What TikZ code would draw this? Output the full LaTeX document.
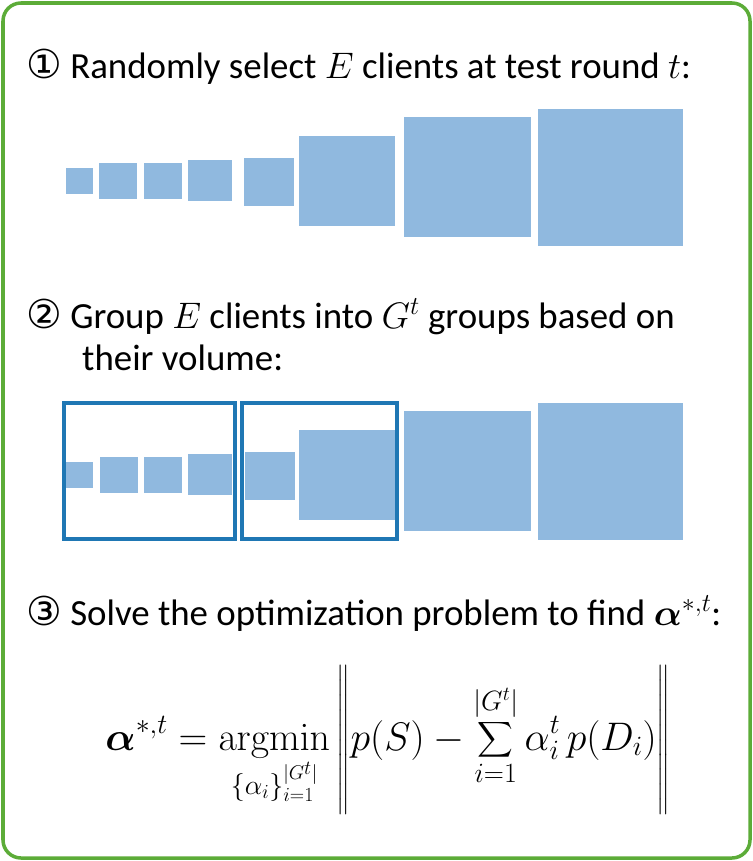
\RequirePackage{fix-cm}
\documentclass[tikz,border=0pt]{standalone}
\usepackage{amsmath,bm}
\usepackage[no-math]{fontspec}
\setmainfont{Carlito}
\newfontfamily\symfont{DejaVu Sans}
\definecolor{framegreen}{RGB}{92,172,56}
\definecolor{clientblue}{RGB}{144,185,223}
\definecolor{groupblue}{RGB}{31,119,180}
\newcommand{\cnum}[1]{{\symfont\fontsize{40}{42}\selectfont #1}}
\tikzset{
  client/.style={fill=clientblue},
  groupbox/.style={draw=groupblue,line width=4bp},
  steptext/.style={anchor=base west,inner sep=0pt,font=\fontsize{37}{44}\selectfont},
}
\begin{document}
\begin{tikzpicture}[x=1bp,y=-1bp]
\useasboundingbox (0,0) rectangle (753,861);
\draw[draw=framegreen,line width=3.5bp,rounded corners=18bp] (3,3) rectangle (750,858);

% step 1
\node[steptext] (s1) at (26,78) {\cnum{①} Randomly select $E$ clients at test round $t$:};
\fill[client] (66,168) rectangle (93,194);
\fill[client] (99,163) rectangle (137,199);
\fill[client] (144,163) rectangle (182,199);
\fill[client] (188,160) rectangle (232,201);
\fill[client] (244,158) rectangle (294,206);
\fill[client] (299,136) rectangle (395,226);
\fill[client] (404,117) rectangle (531,237);
\fill[client] (538,109) rectangle (683,246);

% step 2
\node[steptext] (s2a) at (26,328) {\cnum{②} Group $E$ clients into $G^t$ groups based on};
\node[steptext] (s2b) at (82,370) {their volume:};
\draw[groupbox] (64,403) rectangle (235,539);
\draw[groupbox] (242.4,403) rectangle (397.4,539);
\fill[client] (66,462) rectangle (93,488);
\fill[client] (100,457) rectangle (138,493);
\fill[client] (144,457) rectangle (182,493);
\fill[client] (188,454) rectangle (232,495);
\fill[client] (245,452) rectangle (295,500);
\fill[client] (299,430) rectangle (395,520);
\fill[client] (404,411) rectangle (531,531);
\fill[client] (538,403) rectangle (683,540);

% step 3
\node[steptext] (s3) at (26,625) {\cnum{③} Solve the optimization problem to find $\bm{\alpha}^{*,t}$:};
\node[inner sep=0pt,anchor=base,font=\fontsize{40}{44}\selectfont] (eq) at (388,750)
  {$\displaystyle \bm{\alpha}^{*,t} = \operatorname*{argmin}_{\{\alpha_i\}_{i=1}^{|G^t|}} \left\| \rule[-1.4em]{0pt}{3.4em} p(S) - \sum_{i=1}^{|G^t|} \alpha_i^t\, p(D_i) \right\|$};
\end{tikzpicture}
\end{document}
